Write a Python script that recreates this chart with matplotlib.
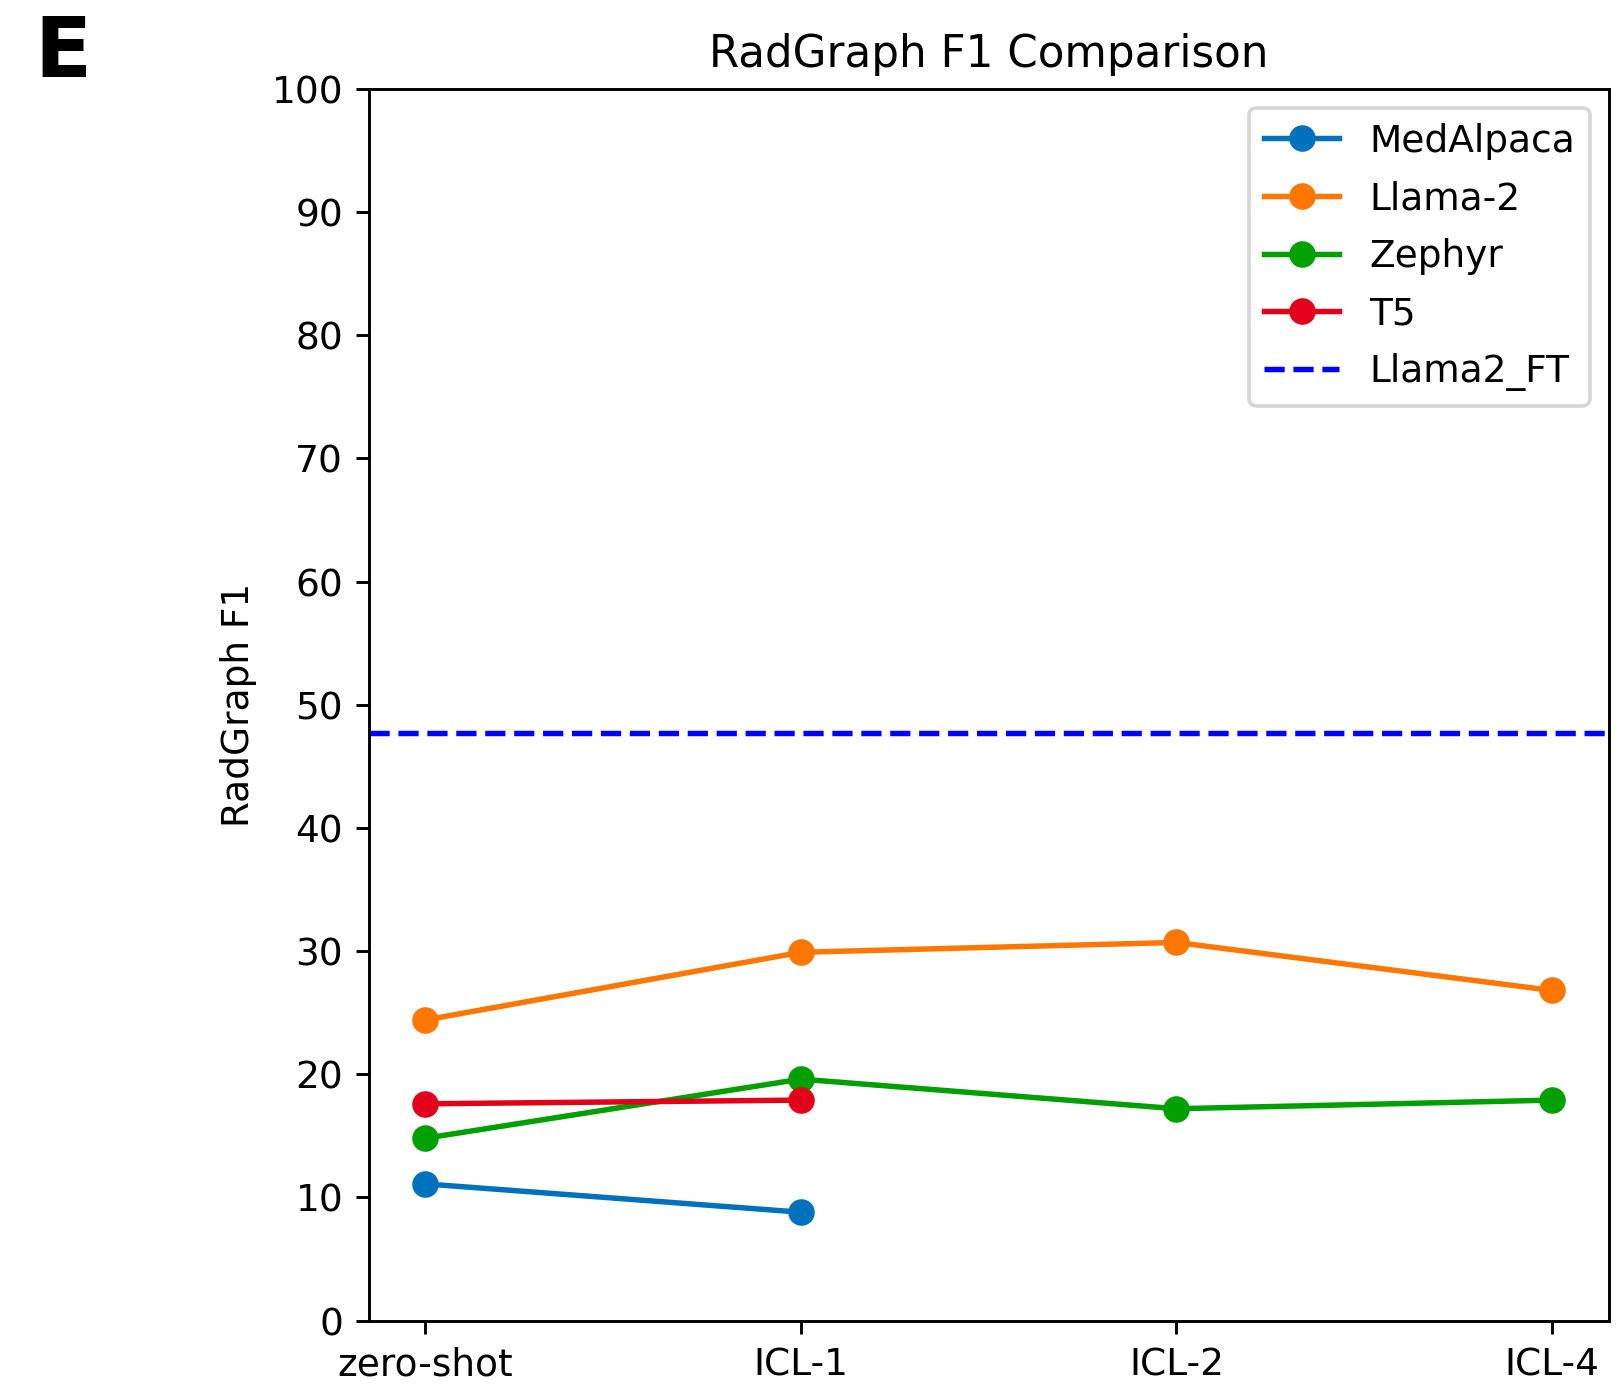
import matplotlib
matplotlib.use("Agg")
import matplotlib.pyplot as plt

# data
settings = ["zero-shot", "ICL-1", "ICL-2", "ICL-4"]
medalpaca = [11.1, 8.8]
llama2 = [24.4, 29.9, 30.7, 26.8]
zephyr = [14.8, 19.6, 17.2, 17.9]
t5 = [17.6, 17.9]
llama2_ft = 47.7

DPI = 262
fig = plt.figure(figsize=(1619 / DPI, 1385 / DPI), dpi=DPI)
ax = fig.add_axes([368.6 / 1619, 1 - 1320.6 / 1385, 1240 / 1619, (1320.6 - 88.8) / 1385])

x = list(range(len(settings)))
ax.plot(x[:len(medalpaca)], medalpaca, marker="o", markersize=6.3, color="#0072BD", label="MedAlpaca")
ax.plot(x, llama2, marker="o", markersize=6.3, color="#FF7700", label="Llama-2")
ax.plot(x, zephyr, marker="o", markersize=6.3, color="#00A000", label="Zephyr")
ax.plot(x[:len(t5)], t5, marker="o", markersize=6.3, color="#E2001A", label="T5")
ax.axhline(llama2_ft, color="blue", linestyle="--", label="Llama2_FT")

ax.set_xticks(x)
ax.set_xticklabels(settings, fontsize=10.3)
ax.set_ylim(0, 100)
ax.set_yticks(range(0, 101, 10))
ax.tick_params(axis="y", labelsize=10.3)
ax.set_ylabel("RadGraph F1", fontsize=10.3)
ax.set_title("RadGraph F1 Comparison")
ax.legend(loc="upper right", fontsize=10.3, labelspacing=0.55, handlelength=2.0)

fig.text(0.021, 1 - 77 / 1385, "E", fontsize=23, fontweight="bold", va="baseline")

fig.savefig("out.png", dpi=DPI)
